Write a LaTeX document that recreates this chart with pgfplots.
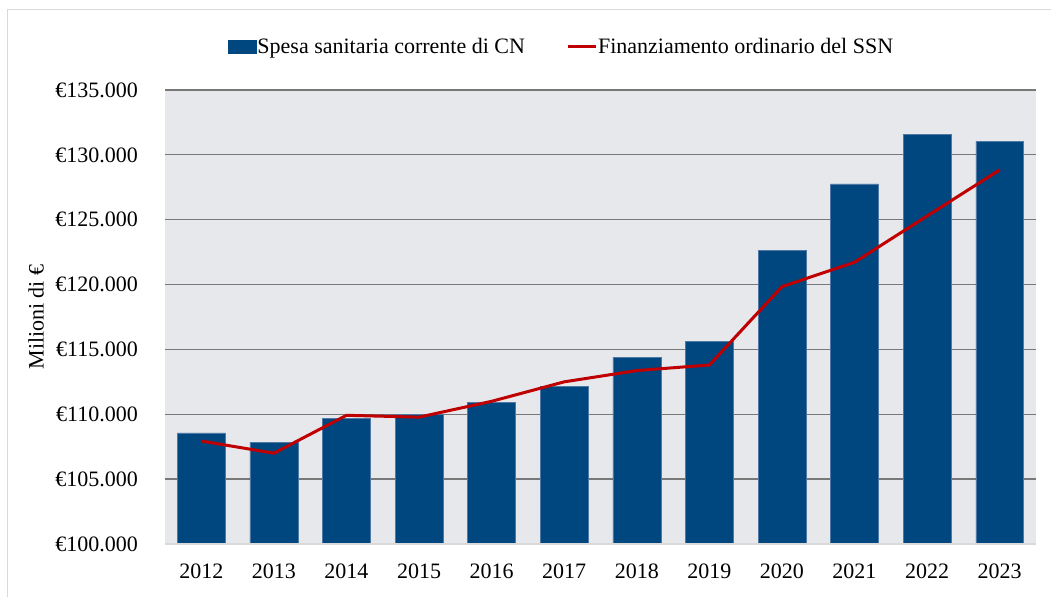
\documentclass[border=0pt]{standalone}
\usepackage{pgfplots}
\pgfplotsset{compat=1.18}
\usepackage{fontspec}
\setmainfont{Liberation Serif}
\definecolor{barblue}{RGB}{0,70,127}
\definecolor{linered}{RGB}{192,0,0}
\definecolor{bgcol}{RGB}{231,232,236}
\definecolor{gridcol}{RGB}{120,120,120}
\definecolor{framecol}{RGB}{217,217,217}
\begin{document}
\begin{tikzpicture}[x=1bp,y=1bp,font=\fontsize{22bp}{26bp}\selectfont]
\useasboundingbox (0,0) rectangle (1051,597);
\draw[framecol, line width=1.5bp] (7.5,0) -- (7.5,587.5) -- (1051,587.5);
\begin{axis}[
  at={(165bp,53bp)}, anchor=south west,
  scale only axis, width=871bp, height=454bp,
  xmin=2011.5, xmax=2023.5,
  ymin=100000, ymax=135000,
  scaled y ticks=false, scaled x ticks=false,
  axis background/.style={fill=bgcol},
  axis line style={draw=none},
  major tick length=0pt,
  xtick={2012,...,2023},
  xticklabels={2012,2013,2014,2015,2016,2017,2018,2019,2020,2021,2022,2023},
  ytick={100000,105000,110000,115000,120000,125000,130000,135000},
  yticklabels={€100.000,€105.000,€110.000,€115.000,€120.000,€125.000,€130.000,€135.000},
  yticklabel style={inner sep=0pt, anchor=east, xshift=-27bp},
  xticklabel style={inner sep=0pt, anchor=north, yshift=-20bp},
  ymajorgrids, grid style={draw=gridcol, line width=1.3bp},
  ylabel={Milioni di €},
  every axis y label/.style={at={(axis description cs:-0.148,0.5)}, rotate=90, anchor=center},
  legend columns=2,
  legend style={draw=none, fill=none, at={(axis description cs:0.4547,1.0947)}, anchor=center,
    /tikz/every even column/.append style={column sep=40bp},
    nodes={inner sep=1bp, anchor=west}},
  clip=false,
]
\addplot[ybar, bar width=0.66, fill=barblue, draw={rgb,255:red,80;green,120;blue,165}, line width=0.5bp,
  legend image code/.code={\fill[barblue] (0bp,-6bp) rectangle (28bp,7bp);}]
  coordinates {
  (2012,108560) (2013,107860) (2014,109700) (2015,110000) (2016,110930) (2017,112180)
  (2018,114390) (2019,115630) (2020,122640) (2021,127760) (2022,131600) (2023,131050)};
\addlegendentry{Spesa sanitaria corrente di CN}
\addplot[linered, line width=3bp, mark=none, sharp plot,
  legend image code/.code={\draw[linered, line width=3bp] (0bp,0bp) -- (28bp,0bp);}]
  coordinates {
  (2012,107940) (2013,107000) (2014,109920) (2015,109780) (2016,111000) (2017,112500)
  (2018,113370) (2019,113800) (2020,119840) (2021,121720) (2022,125290) (2023,128840)};
\addlegendentry{Finanziamento ordinario del SSN}
\draw[framecol, line width=1.5bp] (axis cs:2011.5,100000) -- (axis cs:2023.5,100000);
\end{axis}
\end{tikzpicture}
\end{document}
